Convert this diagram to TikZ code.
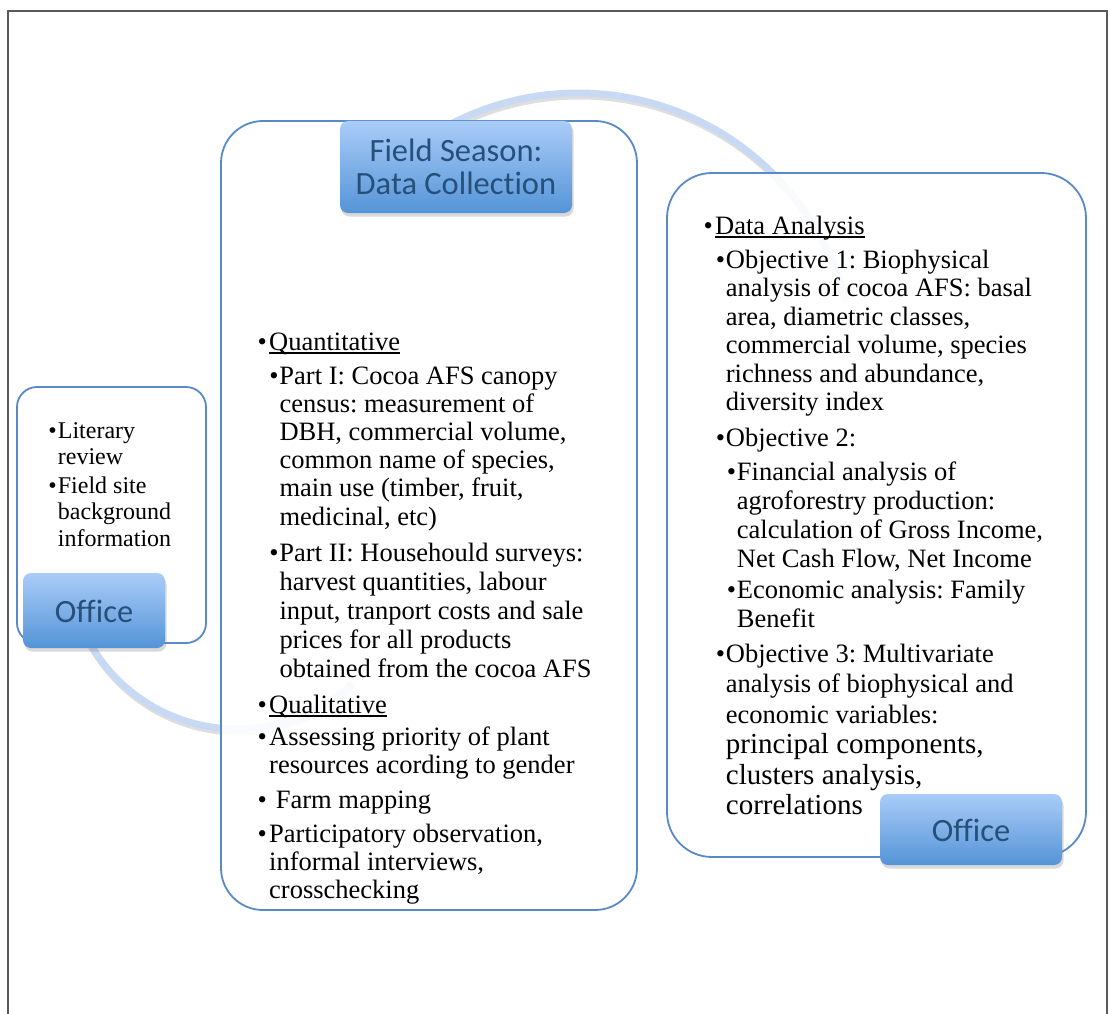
\documentclass[tikz,border=0pt]{standalone}
\usepackage{fontspec}
\setmainfont{Liberation Serif}
\newfontfamily\headfont[Ligatures=NoCommon]{Carlito}
\usetikzlibrary{shadows}
\frenchspacing

\definecolor{panelline}{RGB}{90,138,198}
\definecolor{tagtop}{RGB}{170,204,248}
\definecolor{tagbot}{RGB}{84,148,215}
\definecolor{tagtext}{RGB}{38,80,122}
\definecolor{ringcol}{RGB}{200,218,243}
\definecolor{framecol}{RGB}{90,90,90}

% stacked lines with a fixed baseline distance; the box baseline is the first line
\newcommand\lines[2]{\vtop{\baselineskip=#1\lineskiplimit=-100pt\lineskip=0pt\halign{##\hfil\cr#2\crcr}}}
\newcommand\clines[2]{\vtop{\baselineskip=#1\lineskiplimit=-100pt\lineskip=0pt\halign{\hfil##\hfil\cr#2\crcr}}}
% hanging bullet to the left of the text start
\newcommand\bul[1]{\llap{\textbullet\hspace{#1}}}
% heavy underline
\newcommand\undl[1]{\setbox0=\hbox{#1}\rlap{\rule[-3.8pt]{\wd0}{2pt}}\box0}

\tikzset{
  panel/.style={draw=panelline, line width=1.8pt, fill=white, fill opacity=0.88, inner sep=0pt},
  tag/.style={rectangle, rounded corners=8pt, top color=tagtop, bottom color=tagbot,
    inner sep=0pt, text=tagtext, font=\headfont\fontsize{32.5}{34}\selectfont,
    text height=23pt, text depth=0pt,
    drop shadow={opacity=0.3, shadow xshift=1.5pt, shadow yshift=-3.5pt}},
  item/.style={anchor=base west, inner sep=0pt, font=\fontsize{26.5}{28.5}\selectfont},
  smallitem/.style={item, font=\fontsize{24}{26.5}\selectfont},
  ring/.style={line width=7pt, draw=ringcol},
  ringshade/.style={line width=7pt, draw=black, draw opacity=0.13}
}

\begin{document}
\begin{tikzpicture}[x=1pt, y=-1pt]
\useasboundingbox (0,0) rectangle (1109,1014);

% page frame
\draw[framecol, line width=2pt] (8,1014) -- (8,11) -- (1107,11) -- (1107,1014);

% cycle arcs linking the stages
\coordinate (arcA) at (237,560);
\coordinate (arcB) at (578,369);
\draw[ringshade] ([shift={(1.5,3)}]arcA) ++(160:169) arc[start angle=160, end angle=47, radius=169];
\draw[ring] (arcA) ++(160:169) arc[start angle=160, end angle=47, radius=169];
\draw[ringshade] ([shift={(1.5,3)}]arcB) ++(-125:276) arc[start angle=-125, end angle=-15, radius=276];
\draw[ring] (arcB) ++(-125:276) arc[start angle=-125, end angle=-15, radius=276];

% stage panels
\node[panel, rounded corners=20pt, minimum width=189pt, minimum height=256pt] (left) at (111.5,515) {};
\node[panel, rounded corners=42pt, minimum width=416pt, minimum height=789pt] (mid) at (429,515.5) {};
\node[panel, rounded corners=45pt, minimum width=419pt, minimum height=684pt] (right) at (876.5,515) {};

% stage titles
\node[tag, minimum width=142pt, minimum height=75pt] (office1) at (94,610.5) {\clines{34pt}{Office}};
\node[tag, minimum width=232pt, minimum height=92pt, text height=22.5pt, text depth=33.1pt] (field) at (456,167)
  {\clines{33.3pt}{Field Season:\cr Data Collection}};
\node[tag, minimum width=182pt, minimum height=71pt] (office2) at (971,829.5) {\clines{34pt}{Office}};

% office: preparation
\node[smallitem] (l1) at (57.7,438.3) {\lines{26.5pt}{\bul{1pt}Literary\cr review}};
\node[smallitem] (l2) at (57.7,493.3) {\lines{26.5pt}{\bul{1pt}Field site\cr background\cr information}};

% field season
\node[item] (q1) at (269,350) {\lines{28.5pt}{\bul{2.2pt}\undl{Quantitative}}};
\node[item] (q2) at (279.3,384) {\lines{28.2pt}{\bul{0.8pt}Part I: Cocoa AFS canopy\cr
  census: measurement of\cr DBH, commercial volume,\cr common name of species,\cr
  main use (timber, fruit,\cr medicinal, etc)}};
\node[item] (q3) at (279.3,561.7) {\lines{29pt}{\bul{0.8pt}Part II: Househould surveys:\cr
  harvest quantities, labour\cr input, tranport costs and sale\cr prices for all products\cr
  obtained from the cocoa AFS}};
\node[item] (q4) at (269,713) {\lines{28.5pt}{\bul{2.2pt}\undl{Qualitative}}};
\node[item] (q5) at (269,745) {\lines{28.3pt}{\bul{2.2pt}Assessing priority of plant\cr
  resources acording to gender}};
\node[item] (q6) at (269,808) {\lines{28.5pt}{\bul{2.2pt}\ Farm mapping}};
\node[item] (q7) at (269,842) {\lines{28pt}{\bul{2.2pt}Participatory observation,\cr
  informal interviews,\cr crosschecking}};

% office: analysis
\node[item] (r1) at (715,234) {\lines{28.5pt}{\bul{2.2pt}\undl{Data Analysis}}};
\node[item] (r2) at (725.7,268.3) {\lines{28.5pt}{\bul{0.8pt}Objective 1: Biophysical\cr
  analysis of cocoa AFS: basal\cr area, diametric classes,\cr commercial volume, species\cr
  richness and abundance,\cr diversity index}};
\node[item] (r3) at (725.7,446) {\lines{28.5pt}{\bul{0.8pt}Objective 2:}};
\node[item] (r4) at (736.7,480) {\lines{29pt}{\bul{0.8pt}Financial analysis of\cr
  agroforestry production:\cr calculation of Gross Income,\cr Net Cash Flow, Net Income}};
\node[item] (r5) at (736.7,598) {\lines{29pt}{\bul{0.8pt}Economic analysis: Family\cr Benefit}};
\node[item] (r6) at (725.7,662) {\lines{30.5pt}{\bul{0.8pt}Objective 3: Multivariate\cr
  analysis of biophysical and\cr economic variables:\cr
  {\fontsize{29}{32}\selectfont principal components,}\cr
  {\fontsize{29}{32}\selectfont clusters analysis,}\cr
  {\fontsize{29}{32}\selectfont correlations}}};
\end{tikzpicture}
\end{document}
